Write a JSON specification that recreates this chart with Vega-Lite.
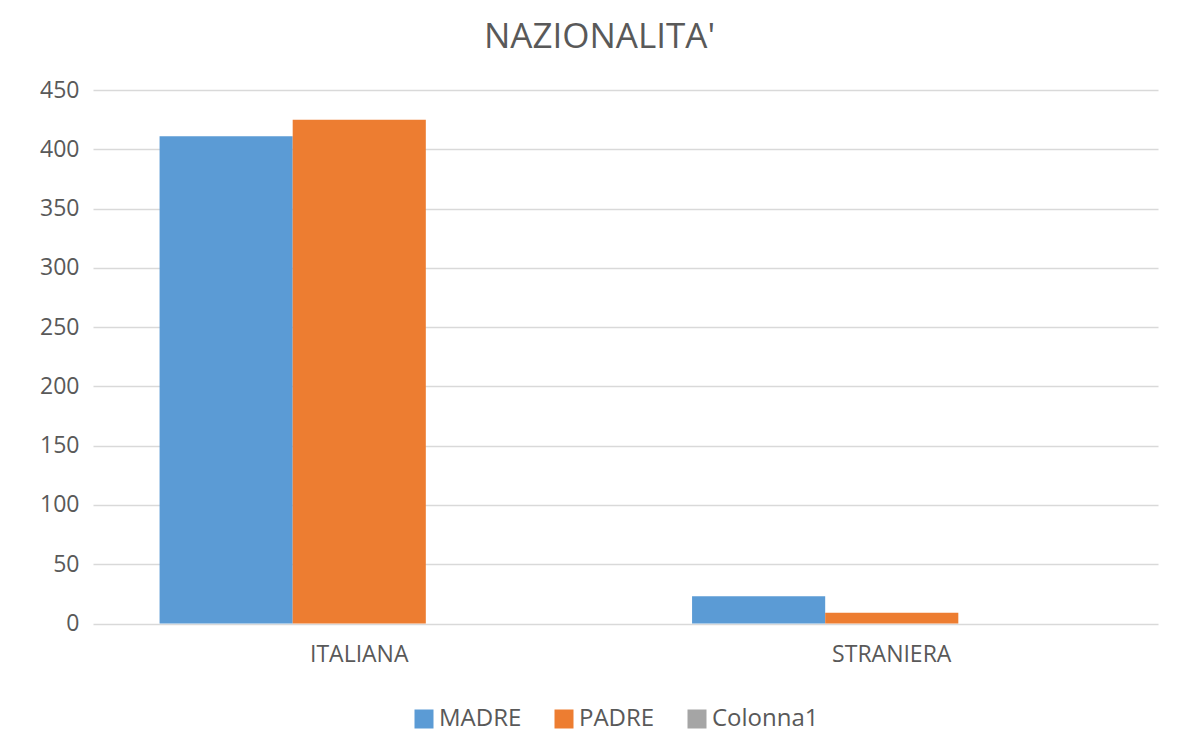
{
  "$schema": "https://vega.github.io/schema/vega-lite/v6.json",
  "autosize": "none",
  "width": 1065,
  "height": 533.5,
  "padding": {"left": 93, "top": 90, "right": 28, "bottom": 132.5},
  "background": "white",
  "title": {
    "text": "NAZIONALITA'",
    "font": "Open Sans",
    "fontSize": 35,
    "fontWeight": "normal",
    "color": "#595959",
    "anchor": "middle",
    "dx": -26,
    "offset": 24
  },
  "data": {
    "values": [
      {"nazionalita": "ITALIANA", "serie": "MADRE", "valore": 411},
      {"nazionalita": "ITALIANA", "serie": "PADRE", "valore": 425},
      {"nazionalita": "ITALIANA", "serie": "Colonna1", "valore": null},
      {"nazionalita": "STRANIERA", "serie": "MADRE", "valore": 23},
      {"nazionalita": "STRANIERA", "serie": "PADRE", "valore": 9},
      {"nazionalita": "STRANIERA", "serie": "Colonna1", "valore": null}
    ]
  },
  "mark": {"type": "bar"},
  "encoding": {
    "x": {
      "field": "nazionalita",
      "type": "nominal",
      "sort": ["ITALIANA", "STRANIERA"],
      "scale": {"paddingInner": 0.25, "paddingOuter": 0.125},
      "axis": {
        "title": null,
        "labelAngle": 0,
        "domain": false,
        "ticks": false,
        "labelPadding": 20,
        "labelFont": "Open Sans",
        "labelFontSize": 23,
        "labelColor": "#595959"
      }
    },
    "xOffset": {
      "field": "serie",
      "type": "nominal",
      "scale": {"domain": ["MADRE", "PADRE", "Colonna1"], "paddingInner": 0, "paddingOuter": 0}
    },
    "y": {
      "field": "valore",
      "type": "quantitative",
      "scale": {"domain": [0, 450], "nice": false},
      "axis": {
        "title": null,
        "values": [0, 50, 100, 150, 200, 250, 300, 350, 400, 450],
        "domain": false,
        "ticks": false,
        "labelPadding": 14,
        "labelFont": "Open Sans",
        "labelFontSize": 23,
        "labelColor": "#595959",
        "gridColor": "#d9d9d9",
        "gridWidth": 1.5
      }
    },
    "color": {
      "field": "serie",
      "type": "nominal",
      "scale": {"domain": ["MADRE", "PADRE", "Colonna1"], "range": ["#5B9BD5", "#ED7D31", "#A5A5A5"]},
      "legend": {
        "title": null,
        "orient": "none",
        "direction": "horizontal",
        "legendX": 319,
        "legendY": 617,
        "symbolType": "square",
        "symbolSize": 361,
        "symbolStrokeWidth": 0,
        "symbolOpacity": 1,
        "labelFont": "Open Sans",
        "labelFontSize": 24,
        "labelColor": "#595959",
        "labelOffset": 3,
        "columnPadding": 30
      }
    }
  },
  "config": {"view": {"stroke": null}}
}
